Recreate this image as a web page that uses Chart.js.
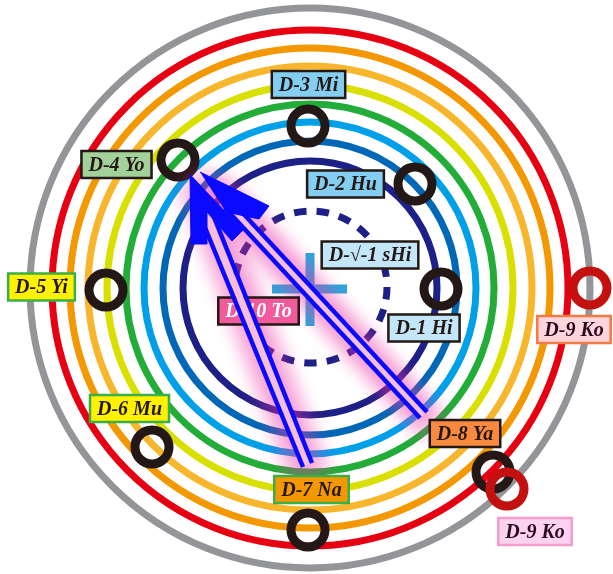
<!DOCTYPE html>
<html><head><meta charset="utf-8">
<script src="https://cdn.jsdelivr.net/npm/chart.js@4/dist/chart.umd.min.js"></script>
<style>html,body{margin:0;padding:0;background:#fff;overflow:hidden}canvas{display:block}</style>
</head><body>
<canvas id="c" width="613" height="574"></canvas>
<script>
// ---- data (units: 1 unit = 1 px, origin at the common centre, y up) ----
const ringNames  = ['Gray','Red','Orange','LightOrange','Yellow','Green','LightBlue','Blue','Navy'];
const ringRadii  = [280, 258, 240, 222, 203, 184, 166, 147, 127];
const dashedCircleX = [1];
const dashedCircleY = [1];
const dashedCircleR = [76];

const markerNames = ['D-1 Hi','D-2 Hu','D-3 Mi','D-4 Yo','D-5 Yi','D-6 Mu','D-7 Na','D-8 Ya'];
const markerX = [131, 105, -2, -132, -204, -158, -2, 183];
const markerY = [-1, 104, 162, 128, -2, -159, -242, -184];
const koMarkerX = [280, 197];
const koMarkerY = [0, -201];

const labelTexts = ['D-3 Mi','D-4 Yo','D-2 Hu','D-\u221A-1 sHi','D-5 Yi','D-10 To','D-1 Hi','D-9 Ko','D-6 Mu','D-8 Ya','D-7 Na','D-9 Ko'];
const labelX = [-1.5, -193.5, 35.5, 60, -268.5, -51.5, 114, 264, -180.5, 155, 1.5, 225];
const labelY = [203.5, 123.5, 104, 33, 1, -23, -40, -41.5, -120.5, -145.5, -201.5, -243.5];

const crossV = [{x:0,y:35},{x:0,y:-38}];
const crossH = [{x:-38,y:-1},{x:37,y:-1}];

const pairA1 = [{x:-7,y:-179},{x:-113,y:80}];
const pairA2 = [{x:2,y:-175},{x:-98,y:76}];
const pairAc = [{x:-2.5,y:-177},{x:-105.5,y:78}];
const pairB1 = [{x:110,y:-130},{x:-85,y:80}];
const pairB2 = [{x:117,y:-124},{x:-72,y:80}];
const pairBc = [{x:113.5,y:-127},{x:-78.5,y:80}];
const glowA = [{x:-3,y:-180},{x:-108,y:95}];
const glowB = [{x:115,y:-130},{x:-90,y:95}];

const arrowHeadA = [{x:-120,y:114},{x:-119,y:44},{x:-103,y:44},{x:-103,y:76},{x:-78,y:47},{x:-67,y:58}];
const arrowHeadB = [{x:-110,y:116},{x:-41,y:82},{x:-51,y:69},{x:-84,y:76}];

// ---- styles ----
const ringColors = ['#939598','#e60012','#f39800','#f8b62d','#d9e000','#22ac38','#00a0e9','#0068b7','#1d2087'];
const labelBg = ['#84cff1','#a3d19a','#84cff1','#c3e6f8','#fff100','#f15a9b','#c3e6f8','#fdd5dc','#fff100','#f8893f','#f39800','#fbd3f0'];
const labelBorder = ['#231815','#231815','#231815','#231815','#3aae49','#231815','#231815','#f37a45','#3aae49','#231815','#3aae49','#f59ccc'];
const labelInk = ['#231815','#231815','#231815','#231815','#231815','#ffffff','#231815','#2a0a20','#231815','#231815','#231815','#2a0a20'];

const datasets = [];
ringRadii.forEach((r, i) => datasets.push({
  type: 'bubble', label: ringNames[i], data: [{x:0, y:0, r}], clip: false,
  backgroundColor: 'rgba(0,0,0,0)', borderColor: ringColors[i], borderWidth: 7, order: 100
}));
datasets.push({type:'bubble', label:'dashed', fx:'dash', clip:false,
  data: dashedCircleX.map((x,i)=>({x, y:dashedCircleY[i], r:dashedCircleR[i]})),
  backgroundColor:'rgba(0,0,0,0)', borderColor:'#1d2087', borderWidth:7, order: 95});
const lineBase = {type:'line', showLine:true, pointRadius:0, fill:false, tension:0, borderCapStyle:'butt', clip:false};
datasets.push({...lineBase, label:'crossV', data:crossV, borderColor:'rgba(20,162,218,0.92)', borderWidth:9, order:90});
datasets.push({...lineBase, label:'crossH', data:crossH, borderColor:'rgba(20,162,218,0.92)', borderWidth:9, order:90});
datasets.push({type:'scatter', label:'markers', clip:false, data: markerX.map((x,i)=>({x, y:markerY[i]})),
  pointRadius:17, pointBackgroundColor:'rgba(0,0,0,0)', pointBorderColor:'#231815', pointBorderWidth:9, order:85});
datasets.push({type:'scatter', label:'ko', clip:false, data: koMarkerX.map((x,i)=>({x, y:koMarkerY[i]})),
  pointRadius:17, pointBackgroundColor:'rgba(0,0,0,0)', pointBorderColor:'#c4110f', pointBorderWidth:9, order:84});
datasets.push({...lineBase, label:'glowA1', fx:'glow', data:glowA, borderColor:'rgba(236,50,165,0.28)', borderWidth:46, borderCapStyle:'round', order:81});
datasets.push({...lineBase, label:'glowB1', fx:'glow', data:glowB, borderColor:'rgba(236,50,165,0.28)', borderWidth:40, borderCapStyle:'round', order:81});
datasets.push({...lineBase, label:'glowA2', fx:'glow', data:glowA, borderColor:'rgba(236,50,165,0.35)', borderWidth:20, order:80});
datasets.push({...lineBase, label:'glowB2', fx:'glow', data:glowB, borderColor:'rgba(236,50,165,0.35)', borderWidth:20, order:80});
datasets.push({type:'scatter', label:'labels', data:[], order:75});
datasets.push({...lineBase, label:'stripeA', data:pairAc, borderColor:'#f7bedc', borderWidth:7, order:70});
datasets.push({...lineBase, label:'stripeB', data:pairBc, borderColor:'#f7bedc', borderWidth:7, order:70});
[pairA1, pairA2, pairB1, pairB2].forEach((d,i) => datasets.push({...lineBase, label:'line'+i, data:d, borderColor:'#0a0aff', borderWidth:4.5, order:65}));
datasets.push({...lineBase, label:'headA', data:arrowHeadA, borderColor:'#0a0aff', backgroundColor:'#0a0aff', borderWidth:1, fill:'shape', order:60});
datasets.push({...lineBase, label:'headB', data:arrowHeadB, borderColor:'#0a0aff', backgroundColor:'#0a0aff', borderWidth:1, fill:'shape', order:60});

function drawLabels(chart) {
  const ctx = chart.ctx, xs = chart.scales.x, ys = chart.scales.y;
  ctx.save();
  ctx.font = 'italic bold 20px "Liberation Serif", "Times New Roman", serif';
  ctx.textAlign = 'center'; ctx.textBaseline = 'middle';
  labelTexts.forEach((t, i) => {
    const cx = xs.getPixelForValue(labelX[i]), cy = ys.getPixelForValue(labelY[i]);
    const w = ctx.measureText(t).width + 14, h = 27;
    ctx.fillStyle = labelBg[i];
    ctx.fillRect(cx - w/2, cy - h/2, w, h);
    ctx.lineWidth = 2.5; ctx.strokeStyle = labelBorder[i];
    ctx.strokeRect(cx - w/2, cy - h/2, w, h);
    ctx.fillStyle = labelInk[i];
    ctx.fillText(t, cx, cy + 1);
  });
  ctx.restore();
}

const fx = {
  id: 'fx',
  beforeDatasetDraw(chart, args) {
    const ds = chart.data.datasets[args.index];
    chart.ctx.save();
    if (ds.fx === 'dash') chart.ctx.setLineDash([12.5, 10.2]);
    if (ds.fx === 'glow') chart.ctx.filter = 'blur(7px)';
  },
  afterDatasetDraw(chart, args) {
    const ds = chart.data.datasets[args.index];
    chart.ctx.restore();
    if (ds.label === 'labels') drawLabels(chart);
  }
};

new Chart(document.getElementById('c'), {
  type: 'scatter',
  data: { datasets },
  options: {
    responsive: false, animation: false, events: [],
    layout: { padding: 0, autoPadding: false },
    plugins: { legend: { display: false }, tooltip: { enabled: false } },
    scales: {
      x: { type: 'linear', min: -310, max: 303, display: false },
      y: { type: 'linear', min: -286, max: 288, display: false }
    }
  },
  plugins: [fx]
});
</script>
</body></html>
